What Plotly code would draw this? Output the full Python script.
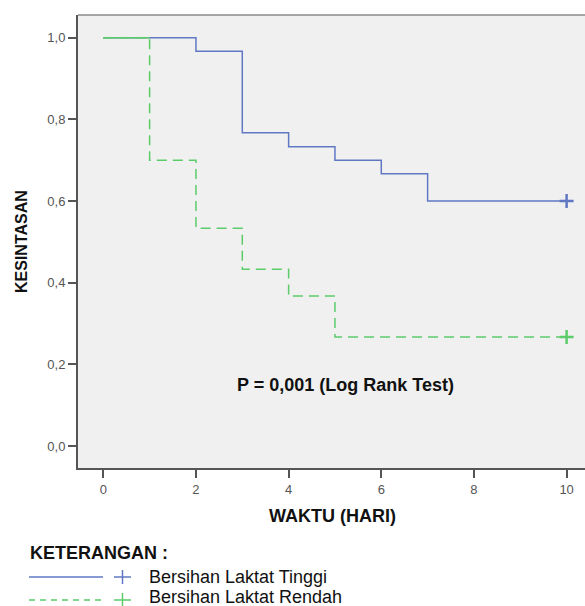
import plotly.graph_objects as go

# Data (Kaplan-Meier estimates)
time_tinggi = [0, 2, 3, 4, 5, 6, 7, 10]
surv_tinggi = [1.0, 0.967, 0.767, 0.733, 0.700, 0.667, 0.600, 0.600]
time_rendah = [0, 1, 2, 3, 4, 5, 10]
surv_rendah = [1.0, 0.700, 0.533, 0.433, 0.367, 0.267, 0.267]
censor_time = 10
x_ticks = [0, 2, 4, 6, 8, 10]
y_ticks = [0.0, 0.2, 0.4, 0.6, 0.8, 1.0]
label_tinggi = "Bersihan Laktat Tinggi"
label_rendah = "Bersihan Laktat Rendah"

BLUE = "#6078c4"
GREEN = "#5ccc6a"
FONT = "Arial, Liberation Sans, sans-serif"

fig = go.Figure()
fig.add_trace(go.Scatter(x=time_tinggi, y=surv_tinggi, mode="lines", line_shape="hv",
                         line=dict(color=BLUE, width=1.5), showlegend=False, hoverinfo="skip"))
fig.add_trace(go.Scatter(x=time_rendah, y=surv_rendah, mode="lines", line_shape="hv",
                         line=dict(color=GREEN, width=1.5, dash="10px,6px"), showlegend=False, hoverinfo="skip"))
# first (overlapping) plateau of the green curve is drawn solid on top of the blue one
fig.add_trace(go.Scatter(x=time_rendah[:2], y=[surv_rendah[0]] * 2, mode="lines",
                         line=dict(color=GREEN, width=1.5), showlegend=False, hoverinfo="skip"))
fig.add_trace(go.Scatter(x=[censor_time], y=[surv_tinggi[-1]], mode="markers",
                         marker=dict(symbol="cross-thin", size=10, line=dict(color=BLUE, width=2.5)),
                         showlegend=False, hoverinfo="skip"))
fig.add_trace(go.Scatter(x=[censor_time], y=[surv_rendah[-1]], mode="markers",
                         marker=dict(symbol="cross-thin", size=10, line=dict(color=GREEN, width=2.5)),
                         showlegend=False, hoverinfo="skip"))

W, H = 585, 606
L, R, T, B = 78, 0, 15, 138
pw, ph = W - L - R, H - T - B

def px(xp):
    return (xp - L) / pw

def py(yp):
    return (H - B - yp) / ph

def text(s, x, y, size, xanchor="center", color="#111", angle=0):
    return dict(text=s, x=px(x), y=py(y), xref="paper", yref="paper", xanchor=xanchor,
                yanchor="middle", textangle=angle, showarrow=False,
                font=dict(family=FONT, size=size, color=color))

annotations = [
    text("<b>P = 0,001 (Log Rank Test)</b>", 345, 385, 18),
    text("<b>WAKTU (HARI)</b>", 332, 516, 18),
    text("<b>KESINTASAN</b>", 21, 242, 16, angle=-90),
    text("<b>KETERANGAN :</b>", 28, 553, 18, xanchor="left"),
    text(label_tinggi, 147, 577, 18, xanchor="left"),
    text(label_rendah, 147, 597, 18, xanchor="left"),
]

def hline(x0, x1, y, color, dash="solid", width=1.5):
    return dict(type="line", xref="paper", yref="paper", x0=px(x0), x1=px(x1), y0=py(y), y1=py(y),
                line=dict(color=color, width=width, dash=dash))

def vline(x, y0, y1, color, width=1.5):
    return dict(type="line", xref="paper", yref="paper", x0=px(x), x1=px(x), y0=py(y0), y1=py(y1),
                line=dict(color=color, width=width))

shapes = [
    dict(type="line", xref="paper", yref="paper", x0=0, x1=1, y0=1, y1=1,
         line=dict(color="#8a8a8a", width=1.5)),
    hline(29, 103, 577, BLUE),
    hline(29, 103, 600, GREEN, dash="6px,5px"),
    hline(114, 131, 577, BLUE), vline(122.5, 570, 584, BLUE),
    hline(114, 131, 600, GREEN), vline(122.5, 593, 606, GREEN),
]

fig.update_layout(
    width=W, height=H,
    margin=dict(l=L, r=R, t=T, b=B),
    paper_bgcolor="white", plot_bgcolor="#f0f0f0",
    separators=",.",
    font=dict(family=FONT),
    annotations=annotations, shapes=shapes,
    xaxis=dict(range=[-0.546, 10.397], tickvals=x_ticks, showgrid=False, zeroline=False,
               showline=True, linecolor="#555", linewidth=2, ticks="outside", ticklen=8,
               tickwidth=1.5, tickcolor="#555", tickfont=dict(size=13, color="#555")),
    yaxis=dict(range=[-0.054, 1.0556], tickvals=y_ticks, tickformat=".1f", showgrid=False,
               zeroline=False, showline=True, linecolor="#555", linewidth=2, ticks="outside",
               ticklen=8, tickwidth=1.5, tickcolor="#555", tickfont=dict(size=13, color="#555")),
)

fig.write_html("out.html", config={"displayModeBar": False},
               post_script="document.body.style.margin='0px';document.body.style.overflow='hidden';")
